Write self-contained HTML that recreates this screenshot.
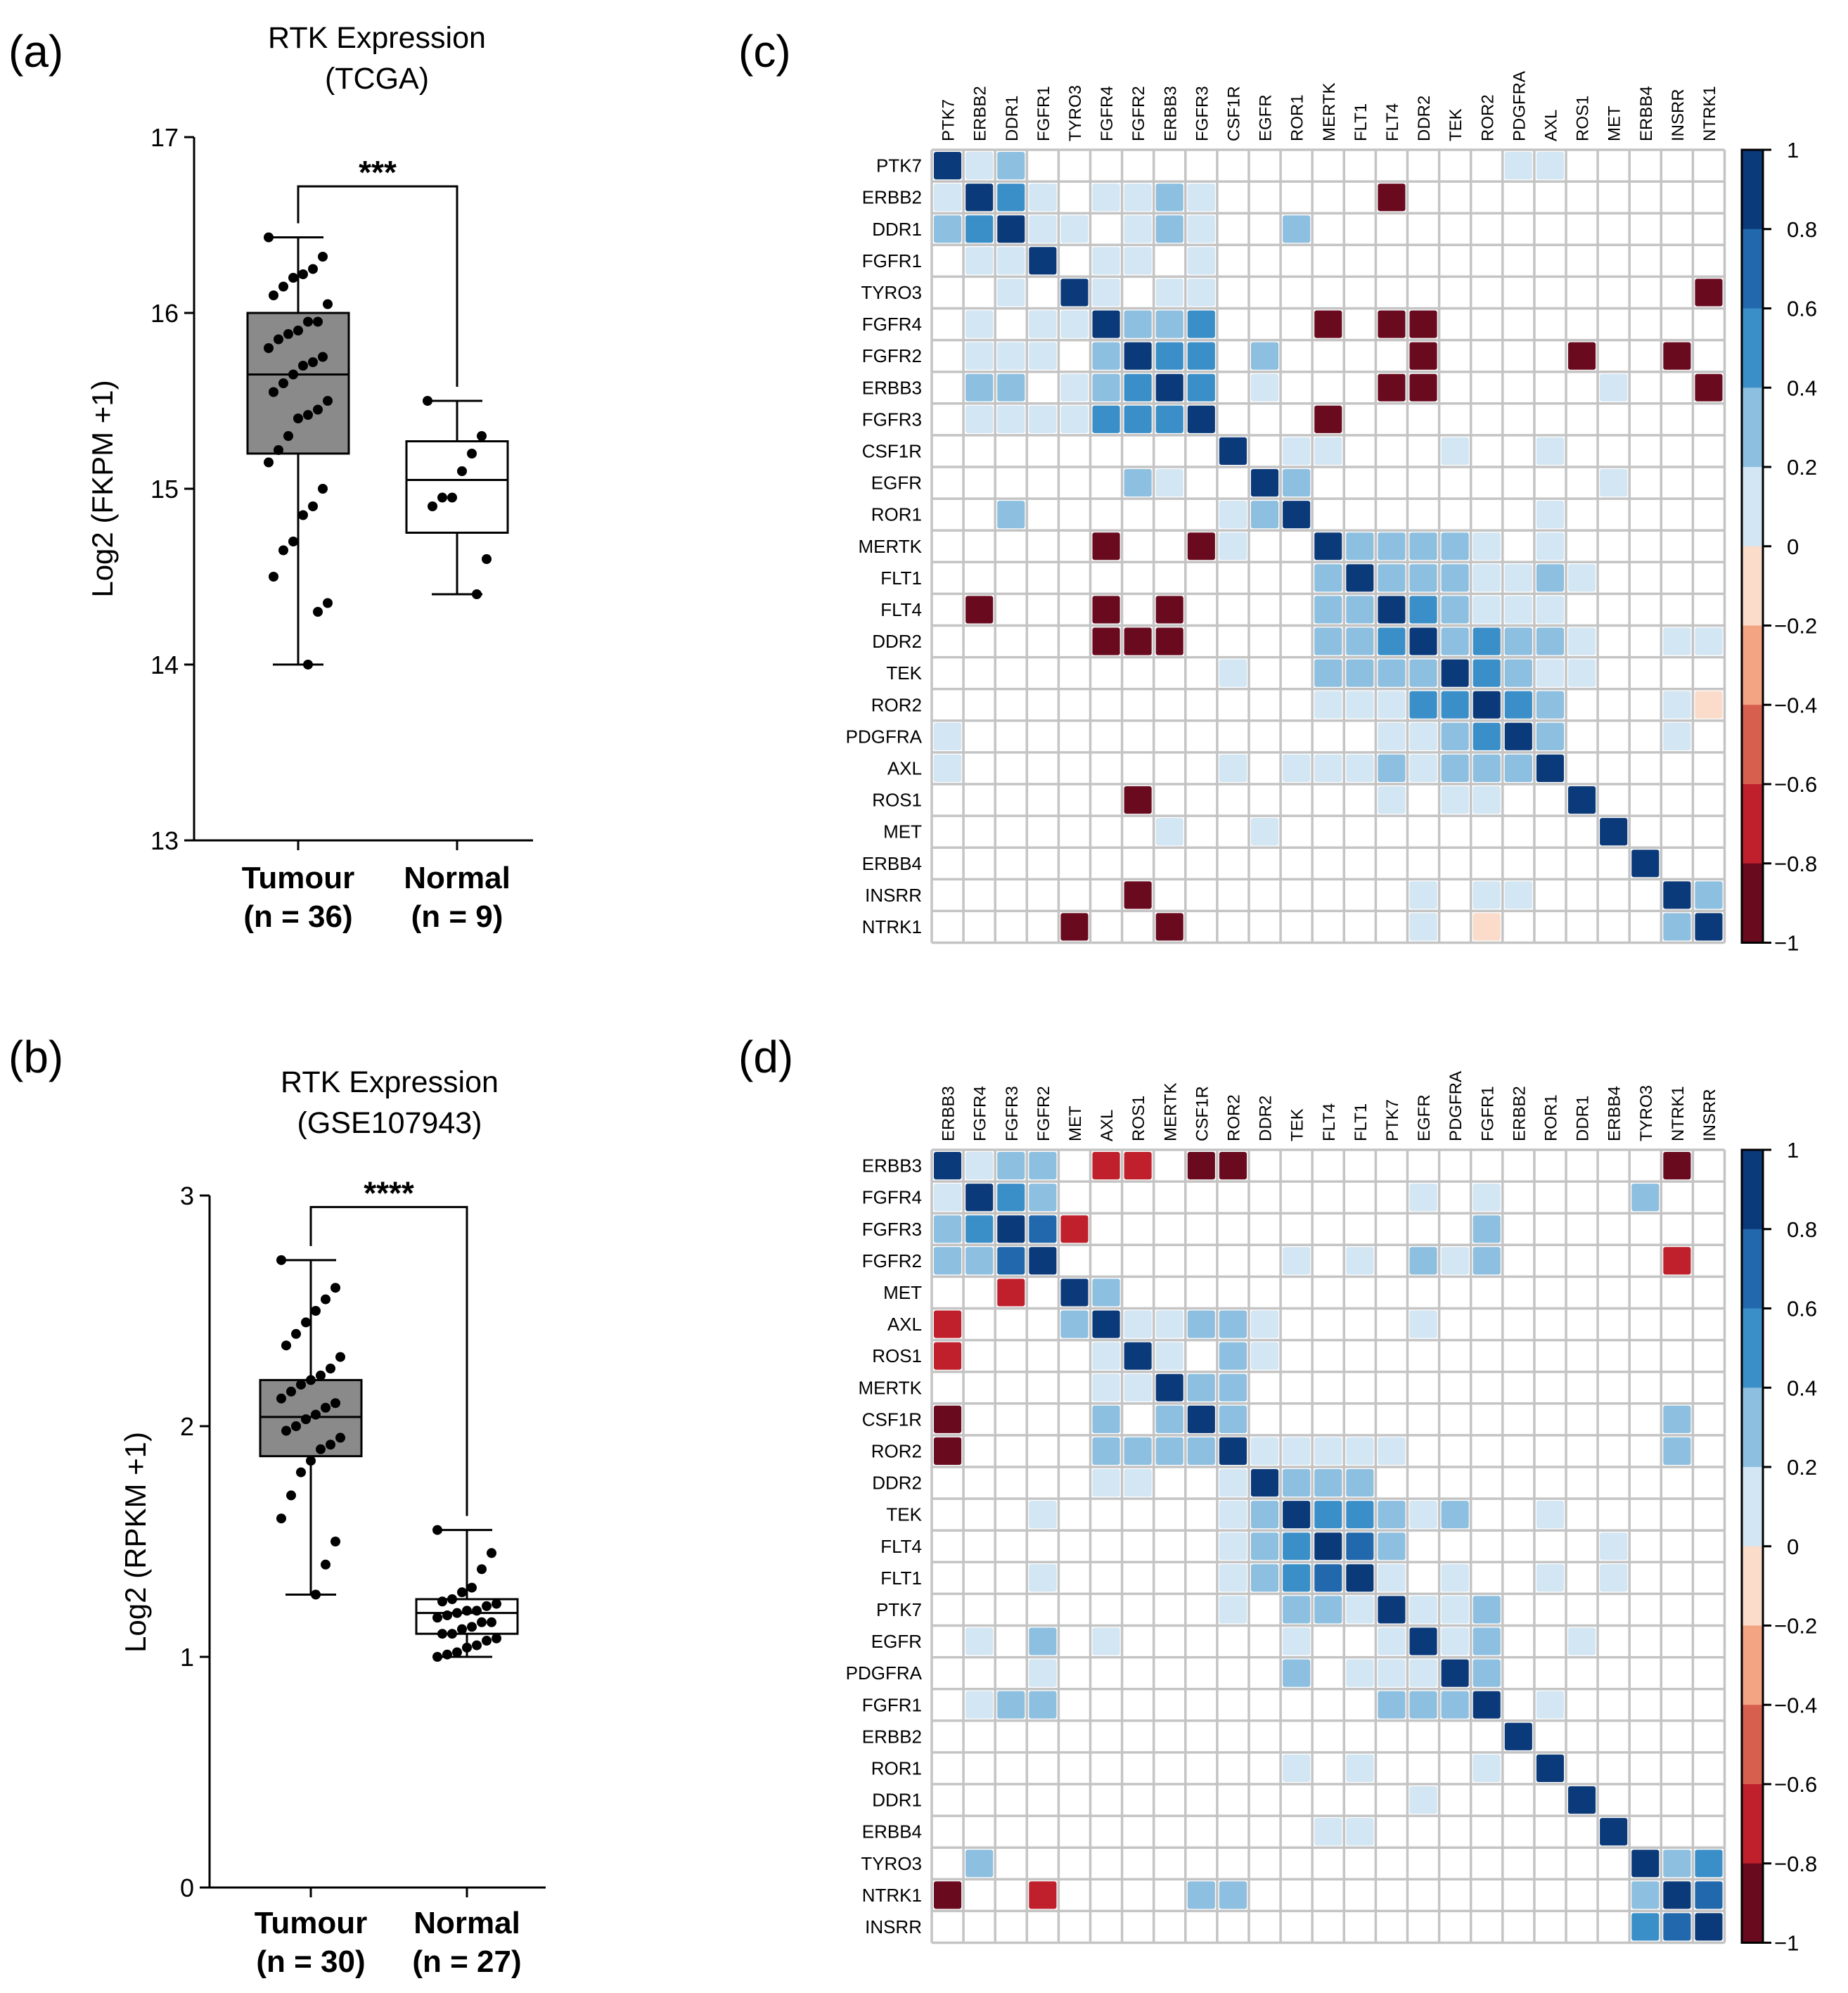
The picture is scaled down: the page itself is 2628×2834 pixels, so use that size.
<!DOCTYPE html>
<html><head><meta charset="utf-8"><style>
html,body{margin:0;padding:0;background:#fff;}
svg{display:block;font-family:"Liberation Sans",Arial,sans-serif;}
</style></head><body>
<svg id="fig" width="2628" height="2834" viewBox="0 0 2628 2834" xmlns="http://www.w3.org/2000/svg">
<rect width="2628" height="2834" fill="#fff"/>
<text x="12" y="95" font-size="64">(a)</text>
<text x="12" y="1525" font-size="64">(b)</text>
<text x="1050" y="95" font-size="64">(c)</text>
<text x="1050" y="1525" font-size="64">(d)</text>
<g id="boxA"></g>
<g id="boxB"></g>
<g id="heatC"></g>
<g id="heatD"></g>
</svg>
<script>
// ---------- Box plot data ----------
const groupsA = ["Tumour","Normal"];
const nLabelsA = ["(n = 36)","(n = 9)"];
const tumourA = [16.43,16.32,16.25,16.22,16.2,16.15,16.1,16.05,15.95,15.95,15.9,15.88,15.85,15.8,15.75,15.72,15.7,15.65,15.6,15.55,15.5,15.45,15.42,15.4,15.3,15.22,15.15,15.0,14.9,14.85,14.7,14.65,14.5,14.35,14.3,14.0];
const normalA = [15.5,15.3,15.2,15.1,14.95,14.95,14.9,14.6,14.4];
const statsTumourA = [14.0,15.2,15.65,16.0,16.43];
const statsNormalA = [14.4,14.75,15.05,15.27,15.5];
const ticksA = [13,14,15,16,17];

const groupsB = ["Tumour","Normal"];
const nLabelsB = ["(n = 30)","(n = 27)"];
const tumourB = [2.72,2.6,2.55,2.5,2.45,2.4,2.35,2.3,2.25,2.22,2.2,2.18,2.15,2.12,2.1,2.08,2.05,2.03,2.0,1.98,1.95,1.92,1.9,1.85,1.8,1.7,1.6,1.5,1.4,1.27];
const normalB = [1.55,1.45,1.38,1.3,1.28,1.25,1.24,1.23,1.22,1.2,1.2,1.19,1.18,1.17,1.15,1.15,1.13,1.12,1.1,1.1,1.08,1.07,1.05,1.04,1.02,1.01,1.0];
const statsTumourB = [1.27,1.87,2.04,2.2,2.72];
const statsNormalB = [1.0,1.1,1.19,1.25,1.55];
const ticksB = [0,1,2,3];

const NS = "http://www.w3.org/2000/svg";
function mk(parent, tag, attrs, text){
  const e = document.createElementNS(NS, tag);
  for (const k in attrs) e.setAttribute(k, attrs[k]);
  if (text !== undefined) e.textContent = text;
  parent.appendChild(e);
  return e;
}

function boxPlot(g, cfg){
  const y = v => cfg.y0 - (v - cfg.vmin) * cfg.k;
  const ax = cfg.axisX;
  let e;
  e = mk(g,'line',{x1:ax,y1:y(cfg.ticks[cfg.ticks.length-1]),x2:ax,y2:y(cfg.vmin),stroke:'#000','stroke-width':3});
   
  e = mk(g,'line',{x1:ax,y1:y(cfg.vmin),x2:cfg.axisEnd,y2:y(cfg.vmin),stroke:'#000','stroke-width':3});
   
  cfg.ticks.forEach(t=>{
    e = mk(g,'line',{x1:ax-14,y1:y(t),x2:ax,y2:y(t),stroke:'#000','stroke-width':3});
     
    e = mk(g,'text',{x:ax-22,y:y(t)+13,'font-size':36,'text-anchor':'end'},String(t));
     
  });
  cfg.groupX.forEach(cx=>{
    e = mk(g,'line',{x1:cx,y1:y(cfg.vmin),x2:cx,y2:y(cfg.vmin)+14,stroke:'#000','stroke-width':3});
     
  });
  e = mk(g,'text',{x:cfg.titleX,y:cfg.titleY,'font-size':43,'text-anchor':'middle'},'RTK Expression');
   
  e = mk(g,'text',{x:cfg.titleX,y:cfg.titleY+58,'font-size':43,'text-anchor':'middle'},cfg.subtitle);
   
  e = mk(g,'text',{x:0,y:0,'font-size':42,'text-anchor':'middle',transform:`translate(${cfg.ylabX},${cfg.ylabY}) rotate(-90)`},cfg.ylabel);
   
  cfg.groups.forEach((name,i)=>{
    const cx = cfg.groupX[i], st = cfg.stats[i], hw = 72;
    e = mk(g,'line',{x1:cx,y1:y(st[0]),x2:cx,y2:y(st[4]),stroke:'#000','stroke-width':3});
     
    [st[0],st[4]].forEach(v=>{
      e = mk(g,'line',{x1:cx-36,y1:y(v),x2:cx+36,y2:y(v),stroke:'#000','stroke-width':3});
       
    });
    e = mk(g,'rect',{x:cx-hw,y:y(st[3]),width:2*hw,height:y(st[1])-y(st[3]),fill:i===0?'#8a8a8a':'#fff',stroke:'#000','stroke-width':3});
     
    e = mk(g,'line',{x1:cx-hw,y1:y(st[2]),x2:cx+hw,y2:y(st[2]),stroke:'#000','stroke-width':3});
     
    cfg.points[i].forEach((v,j)=>{
      const jit = (((j*37)%13)-6)*7;
      e = mk(g,'circle',{cx:cx+jit,cy:y(v),r:7,fill:'#000'});
       
    });
    e = mk(g,'text',{x:cx,y:cfg.labY,'font-size':44,'font-weight':'bold','text-anchor':'middle'},name);
     
    e = mk(g,'text',{x:cx,y:cfg.labY+55,'font-size':44,'font-weight':'bold','text-anchor':'middle'},cfg.nlabels[i]);
     
  });
  const by = y(cfg.bracket), x0 = cfg.groupX[0], x1 = cfg.groupX[1];
  e = mk(g,'path',{d:`M${x0},${y(cfg.stats[0][4])-20} V${by} H${x1} V${y(cfg.stats[1][4])-20}`,fill:'none',stroke:'#000','stroke-width':3});
   
  e = mk(g,'text',{x:(x0+x1)/2,y:by-4,'font-size':46,'font-weight':'bold','text-anchor':'middle'},cfg.stars);
   
}

boxPlot(document.getElementById('boxA'),{vmin:13,y0:1195,k:250,axisX:276,axisEnd:758,ticks:ticksA,groupX:[424,650],
  titleX:536,titleY:68,subtitle:'(TCGA)',ylabel:'Log2 (FKPM +1)',ylabX:160,ylabY:695,groups:groupsA,nlabels:nLabelsA,
  stats:[statsTumourA,statsNormalA],points:[tumourA,normalA],labY:1263,bracket:16.72,stars:'***'});
boxPlot(document.getElementById('boxB'),{vmin:0,y0:2684,k:328,axisX:298,axisEnd:776,ticks:ticksB,groupX:[442,664],
  titleX:554,titleY:1553,subtitle:'(GSE107943)',ylabel:'Log2 (RPKM +1)',ylabX:207,ylabY:2193,groups:groupsB,nlabels:nLabelsB,
  stats:[statsTumourB,statsNormalB],points:[tumourB,normalB],labY:2749,bracket:2.95,stars:'****'});

// ---------- Heatmap data ----------
const genesC = ["PTK7","ERBB2","DDR1","FGFR1","TYRO3","FGFR4","FGFR2","ERBB3","FGFR3","CSF1R","EGFR","ROR1","MERTK","FLT1","FLT4","DDR2","TEK","ROR2","PDGFRA","AXL","ROS1","MET","ERBB4","INSRR","NTRK1"];
const valuesC = [
[1,.1,.3,0,0,0,0,0,0,0,0,0,0,0,0,0,0,0,.1,.1,0,0,0,0,0],
[.1,1,.5,.1,0,.1,.1,.3,.1,0,0,0,0,0,-.9,0,0,0,0,0,0,0,0,0,0],
[.3,.5,1,.1,.1,0,.1,.3,.1,0,0,.3,0,0,0,0,0,0,0,0,0,0,0,0,0],
[0,.1,.1,1,0,.1,.1,0,.1,0,0,0,0,0,0,0,0,0,0,0,0,0,0,0,0],
[0,0,.1,0,1,.1,0,.1,.1,0,0,0,0,0,0,0,0,0,0,0,0,0,0,0,-.9],
[0,.1,0,.1,.1,1,.3,.3,.5,0,0,0,-.9,0,-.9,-.9,0,0,0,0,0,0,0,0,0],
[0,.1,.1,.1,0,.3,1,.5,.5,0,.3,0,0,0,0,-.9,0,0,0,0,-.9,0,0,-.9,0],
[0,.3,.3,0,.1,.3,.5,1,.5,0,.1,0,0,0,-.9,-.9,0,0,0,0,0,.1,0,0,-.9],
[0,.1,.1,.1,.1,.5,.5,.5,1,0,0,0,-.9,0,0,0,0,0,0,0,0,0,0,0,0],
[0,0,0,0,0,0,0,0,0,1,0,.1,.1,0,0,0,.1,0,0,.1,0,0,0,0,0],
[0,0,0,0,0,0,.3,.1,0,0,1,.3,0,0,0,0,0,0,0,0,0,.1,0,0,0],
[0,0,.3,0,0,0,0,0,0,.1,.3,1,0,0,0,0,0,0,0,.1,0,0,0,0,0],
[0,0,0,0,0,-.9,0,0,-.9,.1,0,0,1,.3,.3,.3,.3,.1,0,.1,0,0,0,0,0],
[0,0,0,0,0,0,0,0,0,0,0,0,.3,1,.3,.3,.3,.1,.1,.3,.1,0,0,0,0],
[0,-.9,0,0,0,-.9,0,-.9,0,0,0,0,.3,.3,1,.5,.3,.1,.1,.1,0,0,0,0,0],
[0,0,0,0,0,-.9,-.9,-.9,0,0,0,0,.3,.3,.5,1,.3,.5,.3,.3,.1,0,0,.1,.1],
[0,0,0,0,0,0,0,0,0,.1,0,0,.3,.3,.3,.3,1,.5,.3,.1,.1,0,0,0,0],
[0,0,0,0,0,0,0,0,0,0,0,0,.1,.1,.1,.5,.5,1,.5,.3,0,0,0,.1,-.1],
[.1,0,0,0,0,0,0,0,0,0,0,0,0,0,.1,.1,.3,.5,1,.3,0,0,0,.1,0],
[.1,0,0,0,0,0,0,0,0,.1,0,.1,.1,.1,.3,.1,.3,.3,.3,1,0,0,0,0,0],
[0,0,0,0,0,0,-.9,0,0,0,0,0,0,0,.1,0,.1,.1,0,0,1,0,0,0,0],
[0,0,0,0,0,0,0,.1,0,0,.1,0,0,0,0,0,0,0,0,0,0,1,0,0,0],
[0,0,0,0,0,0,0,0,0,0,0,0,0,0,0,0,0,0,0,0,0,0,1,0,0],
[0,0,0,0,0,0,-.9,0,0,0,0,0,0,0,0,.1,0,.1,.1,0,0,0,0,1,.3],
[0,0,0,0,-.9,0,0,-.9,0,0,0,0,0,0,0,.1,0,-.1,0,0,0,0,0,.3,1]
];
const genesD = ["ERBB3","FGFR4","FGFR3","FGFR2","MET","AXL","ROS1","MERTK","CSF1R","ROR2","DDR2","TEK","FLT4","FLT1","PTK7","EGFR","PDGFRA","FGFR1","ERBB2","ROR1","DDR1","ERBB4","TYRO3","NTRK1","INSRR"];
const valuesD = [
[1,.1,.3,.3,0,-.7,-.7,0,-.9,-.9,0,0,0,0,0,0,0,0,0,0,0,0,0,-.9,0],
[.1,1,.5,.3,0,0,0,0,0,0,0,0,0,0,0,.1,0,.1,0,0,0,0,.3,0,0],
[.3,.5,1,.7,-.7,0,0,0,0,0,0,0,0,0,0,0,0,.3,0,0,0,0,0,0,0],
[.3,.3,.7,1,0,0,0,0,0,0,0,.1,0,.1,0,.3,.1,.3,0,0,0,0,0,-.7,0],
[0,0,-.7,0,1,.3,0,0,0,0,0,0,0,0,0,0,0,0,0,0,0,0,0,0,0],
[-.7,0,0,0,.3,1,.1,.1,.3,.3,.1,0,0,0,0,.1,0,0,0,0,0,0,0,0,0],
[-.7,0,0,0,0,.1,1,.1,0,.3,.1,0,0,0,0,0,0,0,0,0,0,0,0,0,0],
[0,0,0,0,0,.1,.1,1,.3,.3,0,0,0,0,0,0,0,0,0,0,0,0,0,0,0],
[-.9,0,0,0,0,.3,0,.3,1,.3,0,0,0,0,0,0,0,0,0,0,0,0,0,.3,0],
[-.9,0,0,0,0,.3,.3,.3,.3,1,.1,.1,.1,.1,.1,0,0,0,0,0,0,0,0,.3,0],
[0,0,0,0,0,.1,.1,0,0,.1,1,.3,.3,.3,0,0,0,0,0,0,0,0,0,0,0],
[0,0,0,.1,0,0,0,0,0,.1,.3,1,.5,.5,.3,.1,.3,0,0,.1,0,0,0,0,0],
[0,0,0,0,0,0,0,0,0,.1,.3,.5,1,.7,.3,0,0,0,0,0,0,.1,0,0,0],
[0,0,0,.1,0,0,0,0,0,.1,.3,.5,.7,1,.1,0,.1,0,0,.1,0,.1,0,0,0],
[0,0,0,0,0,0,0,0,0,.1,0,.3,.3,.1,1,.1,.1,.3,0,0,0,0,0,0,0],
[0,.1,0,.3,0,.1,0,0,0,0,0,.1,0,0,.1,1,.1,.3,0,0,.1,0,0,0,0],
[0,0,0,.1,0,0,0,0,0,0,0,.3,0,.1,.1,.1,1,.3,0,0,0,0,0,0,0],
[0,.1,.3,.3,0,0,0,0,0,0,0,0,0,0,.3,.3,.3,1,0,.1,0,0,0,0,0],
[0,0,0,0,0,0,0,0,0,0,0,0,0,0,0,0,0,0,1,0,0,0,0,0,0],
[0,0,0,0,0,0,0,0,0,0,0,.1,0,.1,0,0,0,.1,0,1,0,0,0,0,0],
[0,0,0,0,0,0,0,0,0,0,0,0,0,0,0,.1,0,0,0,0,1,0,0,0,0],
[0,0,0,0,0,0,0,0,0,0,0,0,.1,.1,0,0,0,0,0,0,0,1,0,0,0],
[0,.3,0,0,0,0,0,0,0,0,0,0,0,0,0,0,0,0,0,0,0,0,1,.3,.5],
[-.9,0,0,-.7,0,0,0,0,.3,.3,0,0,0,0,0,0,0,0,0,0,0,0,.3,1,.7],
[0,0,0,0,0,0,0,0,0,0,0,0,0,0,0,0,0,0,0,0,0,0,.5,.7,1]
];
const cbarTicks = ["1","0.8","0.6","0.4","0.2","0","−0.2","−0.4","−0.6","−0.8","−1"];
const binColors = ["#0b3a7a","#2268ad","#3b8fc8","#8cbfe0","#d3e6f4","#fbdccb","#f3a482","#d6604d","#c0202c","#6a0a1f"];

function colorFor(v){
  if (v === 0) return null;
  let idx = Math.floor((1 - v) / 0.2);
  if (idx < 0) idx = 0; if (idx > 9) idx = 9;
  return binColors[idx];
}

function heatmap(g, genes, values, top){
  const left = 1325, cs = 45.1, n = genes.length;
  const col = i => left + i*cs, row = j => top + j*cs;
  let e;
  e = mk(g,'rect',{x:left,y:top,width:n*cs,height:n*cs,fill:'#fff'});
   
  values.forEach((r,j)=>r.forEach((v,i)=>{
    const c = colorFor(v);
    if (!c) return;
    e = mk(g,'rect',{x:col(i)+3,y:row(j)+3,width:cs-6,height:cs-6,fill:c,rx:3});
     
  }));
  for (let k=0;k<=n;k++){
    e = mk(g,'line',{x1:col(k),y1:top,x2:col(k),y2:row(n),stroke:'#c4c4c4','stroke-width':3.5});
     
    e = mk(g,'line',{x1:left,y1:row(k),x2:col(n),y2:row(k),stroke:'#c4c4c4','stroke-width':3.5});
     
  }
  genes.forEach((name,i)=>{
    e = mk(g,'text',{x:left-14,y:row(i)+cs/2+9,'font-size':26,'text-anchor':'end'},name);
     
    const cx = col(i)+cs/2+9;
    e = mk(g,'text',{x:0,y:0,'font-size':24,'text-anchor':'start',transform:`translate(${cx},${top-12}) rotate(-90)`},name);
     
  });
  const bx = 2477, bw = 30, bh = n*cs, seg = bh/binColors.length;
  binColors.forEach((c,k)=>{
    e = mk(g,'rect',{x:bx,y:top+k*seg,width:bw,height:seg+0.5,fill:c});
     
  });
  e = mk(g,'rect',{x:bx,y:top,width:bw,height:bh,fill:'none',stroke:'#000','stroke-width':3});
   
  cbarTicks.forEach((t,k)=>{
    const ty = top + k*seg;
    e = mk(g,'line',{x1:bx+bw,y1:ty,x2:bx+bw+12,y2:ty,stroke:'#000','stroke-width':3});
     
    e = mk(g,'text',{x:bx+bw+(t.length>1&&t[0]==='−'?16:34),y:ty+11,'font-size':31},t);
     
  });
}
heatmap(document.getElementById('heatC'), genesC, valuesC, 213);
heatmap(document.getElementById('heatD'), genesD, valuesD, 1635);
</script>
</body></html>
